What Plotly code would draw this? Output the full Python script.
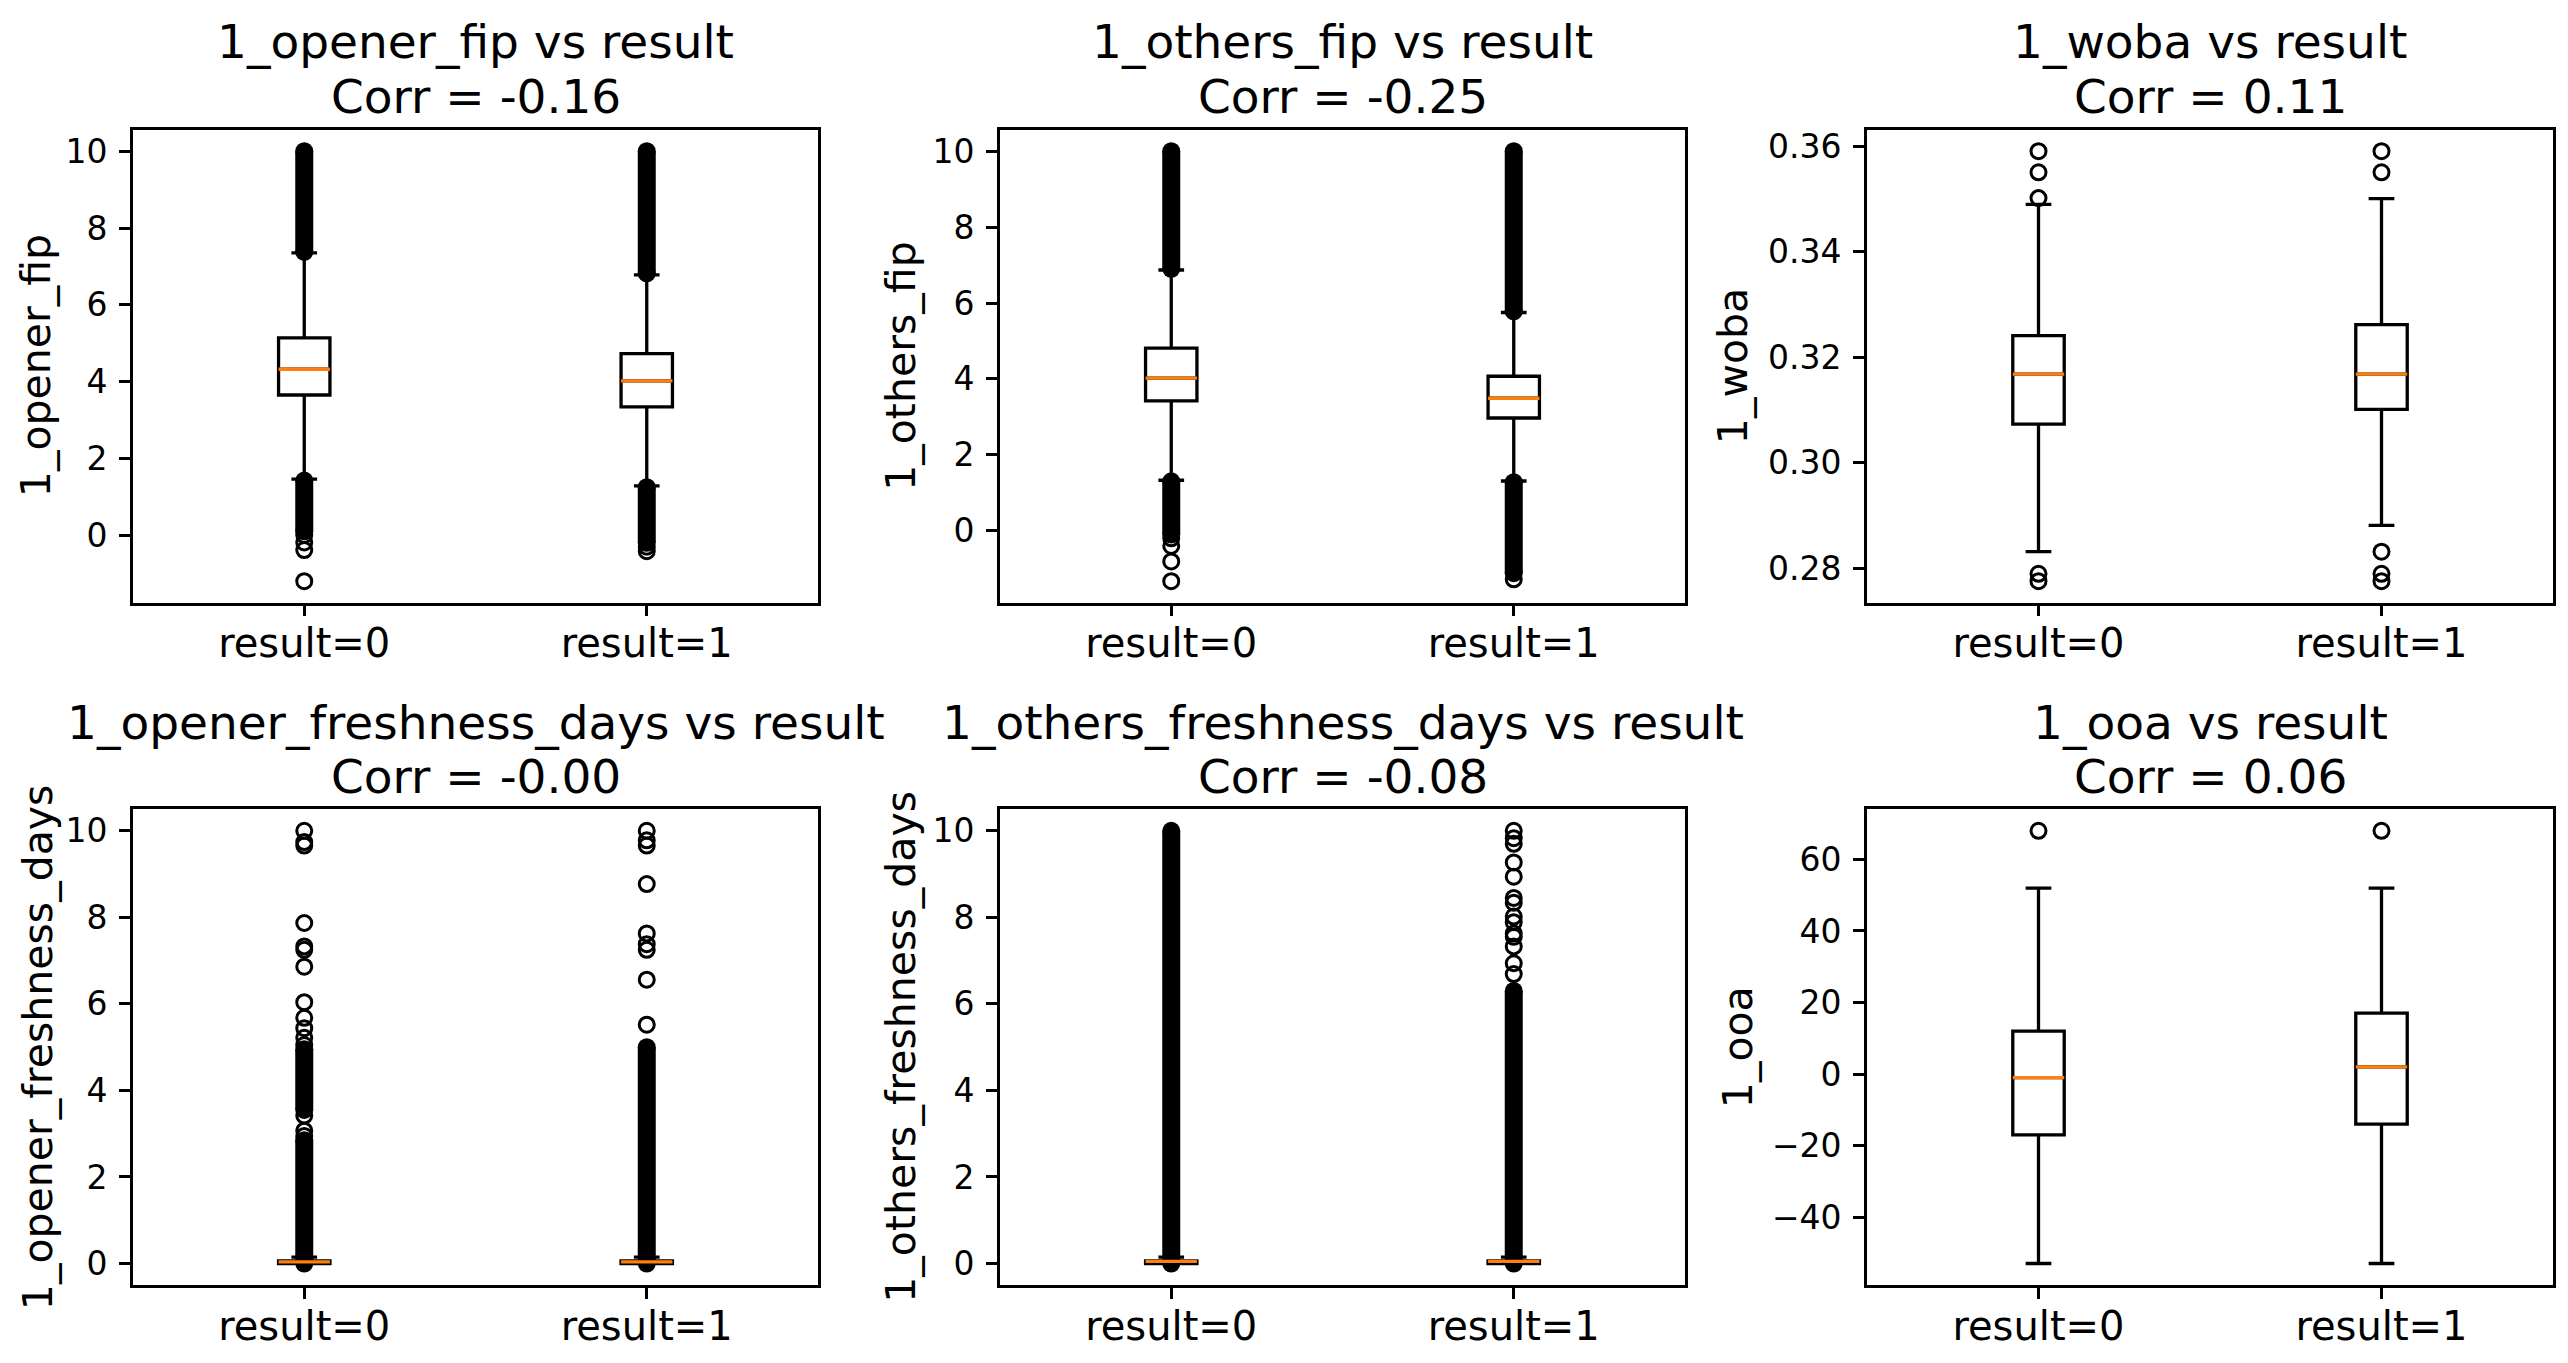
import plotly.graph_objects as go

# ── data ─────────────────────────────────────────────────────────────────────
FEATURES = ["1_opener_fip", "1_others_fip", "1_woba",
            "1_opener_freshness_days", "1_others_freshness_days", "1_ooa"]
CORRS = [-0.16, -0.25, 0.11, -0.0, -0.08, 0.06]
GROUPS = ["result=0", "result=1"]

# box statistics per feature, [result=0, result=1]
Q1 = [[3.65, 3.34], [3.42, 2.97], [0.3073, 0.3101], [0.0, 0.0], [0.0, 0.0], [-17, -14]]
MEDIAN = [[4.32, 4.02], [4.02, 3.49], [0.3168, 0.3168], [0.04, 0.04], [0.05, 0.05], [-1, 2]]
Q3 = [[5.14, 4.73], [4.81, 4.07], [0.3241, 0.3262], [0.06, 0.06], [0.06, 0.06], [12, 17]]
LOWER_WHISKER = [[1.46, 1.28], [1.33, 1.31], [0.2831, 0.2881], [0.0, 0.0], [0.0, 0.0], [-53, -53]]
UPPER_WHISKER = [[7.35, 6.78], [6.87, 5.75], [0.349, 0.3501], [0.15, 0.15], [0.15, 0.15], [52, 52]]

# runs of heavily overlapping outliers (lowest, highest) per feature and group
DENSE_OUTLIERS = [
    [[(7.38, 10.0), (0.1, 1.42)], [(6.82, 10.0), (-0.2, 1.25)]],
    [[(6.9, 10.0), (-0.1, 1.3)], [(5.78, 10.0), (-1.12, 1.28)]],
    [[], []],
    [[(0.0, 2.85), (3.55, 4.95)], [(0.0, 5.0)]],
    [[(0.0, 10.0)], [(0.0, 6.3)]],
    [[], []],
]

# individual outliers per feature and group
OUTLIERS = [
    [[0.0, -0.19, -0.39, -1.2], [-0.3, -0.42]],
    [[-0.2, -0.4, -0.81, -1.33], [-1.28]],
    [[0.3591, 0.3551, 0.3502, 0.2789, 0.2775], [0.3591, 0.3551, 0.2831, 0.2789, 0.2775]],
    [[2.95, 3.07, 3.42, 5.05, 5.22, 5.44, 5.68, 6.04, 6.86, 7.25, 7.33, 7.87, 9.66, 9.74, 10.0],
     [5.52, 6.56, 7.25, 7.38, 7.63, 8.77, 9.66, 9.78, 10.0]],
    [[],
     [6.69, 6.94, 7.33, 7.55, 7.63, 7.89, 8.02, 8.34, 8.45, 8.94, 9.27, 9.70, 9.83, 10.0]],
    [[68], [68]],
]

Y_TICK_STEP = [2, 2, 0.02, 2, 2, 20]
Y_TICK_FORMAT = ["", "", ".2f", "", "", ""]

# ── geometry (page pixels, the page body has an 8px margin) ──────────────────
W, H = 2552, 1347
OFF = 8
COL_X = [(133, 818), (1000, 1685), (1867, 2553)]
ROW_Y = [(127, 601), (808, 1285)]
TITLE_Y = [(39, 94), (720.7, 775.7)]
YLABEL_X = [36, 901.6, 1733, 38, 901.6, 1738]

POSITIONS = [1, 2]
BOX_WIDTH = 0.15
ORANGE = "#ff7f0e"
FONT = "DejaVu Sans"


def fx(px):
    return (px - OFF) / W


def fy(py):
    return 1 - (py - OFF) / H


fig = go.Figure()
layout = dict(
    width=W, height=H,
    margin=dict(l=0, r=0, t=0, b=0),
    paper_bgcolor="white", plot_bgcolor="white",
    font=dict(family=FONT, color="black"),
    showlegend=False,
    annotations=[],
)

for i, feat in enumerate(FEATURES):
    r, c = divmod(i, 3)
    n = "" if i == 0 else str(i + 1)
    xa, ya = "x" + n, "y" + n

    fig.add_trace(go.Box(
        x=POSITIONS, q1=Q1[i], median=MEDIAN[i], q3=Q3[i],
        lowerfence=LOWER_WHISKER[i], upperfence=UPPER_WHISKER[i],
        width=BOX_WIDTH, whiskerwidth=0.5,
        fillcolor="rgba(0,0,0,0)", line=dict(color="black", width=3.3),
        boxpoints=False, hoverinfo="skip", xaxis=xa, yaxis=ya,
    ))

    for g, pos in enumerate(POSITIONS):
        for lo, hi in DENSE_OUTLIERS[i][g]:
            fig.add_trace(go.Scatter(
                x=[pos, pos], y=[lo, hi], mode="lines+markers",
                line=dict(color="black", width=18),
                marker=dict(color="black", size=18),
                hoverinfo="skip", xaxis=xa, yaxis=ya,
            ))
        if OUTLIERS[i][g]:
            fig.add_trace(go.Scatter(
                x=[pos] * len(OUTLIERS[i][g]), y=OUTLIERS[i][g], mode="markers",
                marker=dict(symbol="circle-open", size=15, color="black",
                            line=dict(color="black", width=3)),
                hoverinfo="skip", xaxis=xa, yaxis=ya,
            ))

    mx, my = [], []
    for pos, m in zip(POSITIONS, MEDIAN[i]):
        mx += [pos - BOX_WIDTH / 2, pos + BOX_WIDTH / 2, None]
        my += [m, m, None]
    fig.add_trace(go.Scatter(
        x=mx, y=my, mode="lines", line=dict(color=ORANGE, width=3.3),
        hoverinfo="skip", xaxis=xa, yaxis=ya,
    ))

    # y range like matplotlib autoscale: data extent plus 5% each side
    vals = LOWER_WHISKER[i] + UPPER_WHISKER[i] + OUTLIERS[i][0] + OUTLIERS[i][1]
    for g in range(2):
        for lo, hi in DENSE_OUTLIERS[i][g]:
            vals += [lo, hi]
    lo, hi = min(vals), max(vals)
    pad = 0.05 * (hi - lo)

    x0, x1 = COL_X[c]
    y0, y1 = ROW_Y[r]
    common = dict(
        ticks="outside", ticklen=11, tickwidth=2.6, tickcolor="black",
        showline=True, linecolor="black", linewidth=2.6, mirror=True,
        showgrid=False, zeroline=False,
    )
    layout["xaxis" + n] = dict(
        domain=[fx(x0), fx(x1)], range=[0.5, 2.5], anchor=ya,
        tickmode="array", tickvals=POSITIONS, ticktext=GROUPS,
        tickfont=dict(size=40), ticklabelstandoff=-7, **common,
    )
    layout["yaxis" + n] = dict(
        domain=[fy(y1), fy(y0)], range=[lo - pad, hi + pad], anchor=xa,
        tick0=0, dtick=Y_TICK_STEP[i], tickformat=Y_TICK_FORMAT[i],
        tickfont=dict(size=33), ticklabelstandoff=5, **common,
    )

    cx = fx((x0 + x1) / 2)
    t1, t2 = TITLE_Y[r]
    layout["annotations"] += [
        dict(text=f"{feat} vs result", x=cx, y=fy(t1), xref="paper", yref="paper",
             xanchor="center", yanchor="middle", showarrow=False, font=dict(size=47)),
        dict(text=f"Corr = {CORRS[i]:.2f}", x=cx, y=fy(t2), xref="paper", yref="paper",
             xanchor="center", yanchor="middle", showarrow=False, font=dict(size=47)),
        dict(text=feat, x=fx(YLABEL_X[i]), y=fy((y0 + y1) / 2), xref="paper", yref="paper",
             xanchor="center", yanchor="middle", textangle=-90, showarrow=False,
             font=dict(size=41)),
    ]

fig.update_layout(**layout)
fig.write_html("out.html")
